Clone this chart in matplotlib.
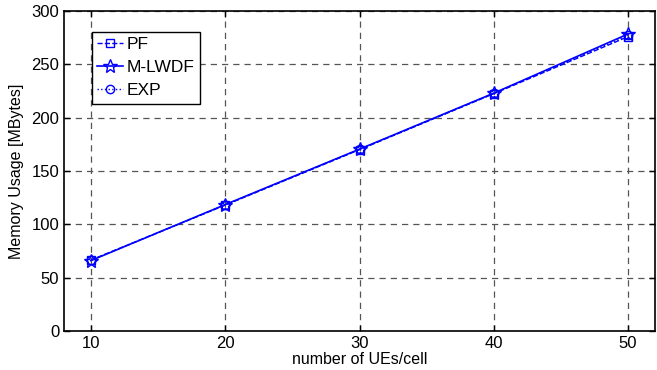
import matplotlib
matplotlib.use("Agg")
import matplotlib.pyplot as plt

plt.rcParams['font.family'] = ['Liberation Sans', 'DejaVu Sans']

ues = [10, 20, 30, 40, 50]
pf = [66.5, 118.0, 170.0, 222.5, 276.0]
mlwdf = [66.0, 118.5, 170.5, 223.0, 278.5]
exp_ = [66.3, 118.2, 170.2, 222.8, 277.2]
xticks = [10, 20, 30, 40, 50]
yticks = [0, 50, 100, 150, 200, 250, 300]

fig = plt.figure(figsize=(6.57, 3.70), dpi=100)
ax = fig.add_axes([64/657, 1-331/370, (655-64)/657, (331-11)/370])

ax.plot(ues, pf, color='blue', linestyle='--', marker='s', markersize=6,
        markerfacecolor='none', markeredgecolor='blue', linewidth=1.0, label='PF')
ax.plot(ues, mlwdf, color='blue', linestyle='-', marker='*', markersize=10,
        markerfacecolor='none', markeredgecolor='blue', linewidth=1.2, label='M-LWDF')
ax.plot(ues, exp_, color='blue', linestyle=':', marker='o', markersize=6,
        markerfacecolor='none', markeredgecolor='blue', linewidth=1.0, label='EXP')

ax.set_xlim(8, 52)
ax.set_ylim(0, 300)
ax.set_xticks(xticks)
ax.set_yticks(yticks)
ax.tick_params(direction='in', labelsize=12, length=4, width=1, top=True, right=True)
ax.grid(True, linestyle=(0, (5, 4)), color='#555555', linewidth=0.9)
for s in ax.spines.values():
    s.set_linewidth(1.2)
    s.set_color('black')

ax.set_xlabel('number of UEs/cell', fontsize=11.5, labelpad=1)
ax.set_ylabel('Memory Usage [MBytes]', fontsize=11.5, labelpad=5)

leg = ax.legend(loc='upper left', bbox_to_anchor=(0.047, 0.934), fontsize=12.5,
                fancybox=False, edgecolor='black', framealpha=1,
                handlelength=1.5, handletextpad=0.2, borderpad=0.3,
                labelspacing=0.45, borderaxespad=0)
leg.get_frame().set_linewidth(1.0)

fig.savefig('out.png', dpi=100)
